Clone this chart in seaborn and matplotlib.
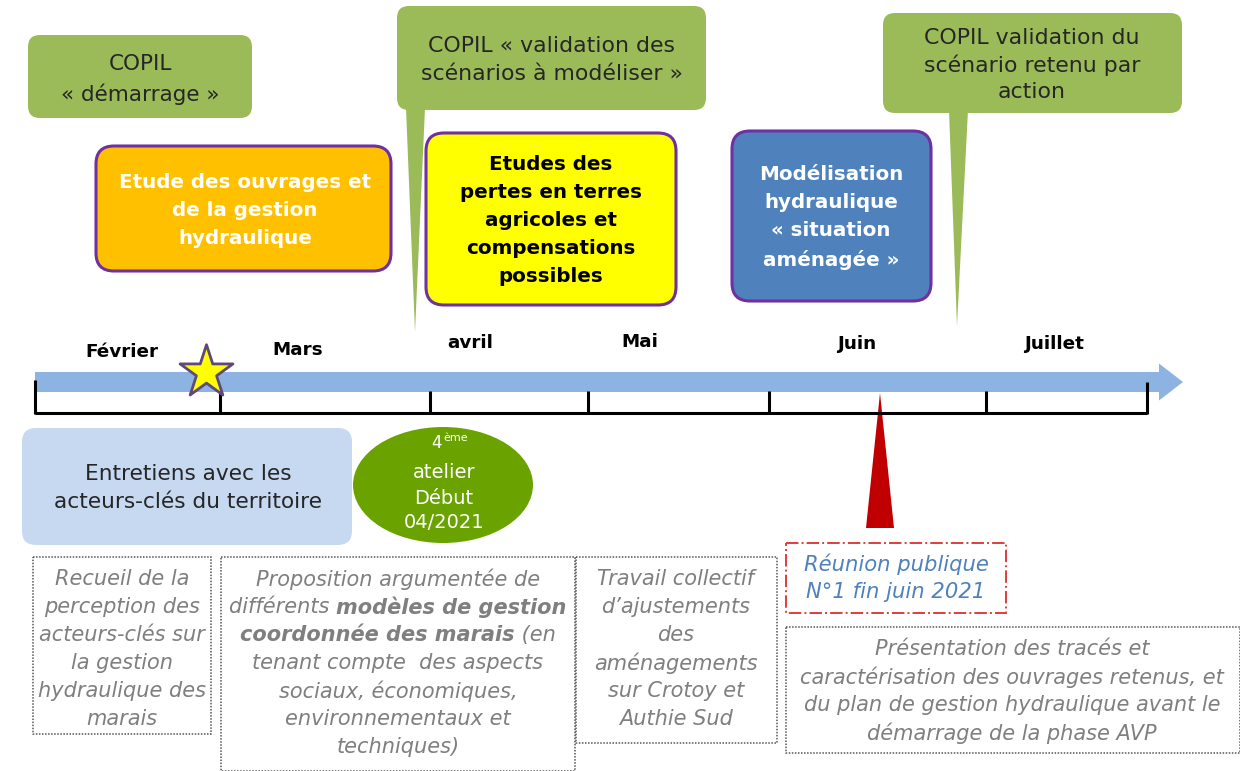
import matplotlib
matplotlib.use("Agg")
import matplotlib.pyplot as plt
import seaborn as sns
import pandas as pd
from matplotlib.patches import FancyBboxPatch, Ellipse, Polygon, Rectangle, FancyArrow

sns.set_theme(style="white")
plt.rcParams['font.family'] = ['DejaVu Sans']

# ---------------- data ----------------
months = ["Février", "Mars", "avril", "Mai", "Juin", "Juillet"]
month_label_x = [122, 298, 470, 640, 857, 1054]
month_label_y = [352, 350, 343, 342, 344, 344]
tick_x = [35, 220, 430, 588, 769, 986, 1147]

copil_texts = [["COPIL", "« démarrage »"],
               ["COPIL « validation des", "scénarios à modéliser »"],
               ["COPIL validation du", "scénario retenu par", "action"]]
phase_texts = [["Etude des ouvrages et", "de la gestion", "hydraulique"],
               ["Etudes des", "pertes en terres", "agricoles et", "compensations", "possibles"],
               ["Modélisation", "hydraulique", "« situation", "aménagée »"]]
entretiens_text = ["Entretiens avec les", "acteurs-clés du territoire"]
atelier_text = ["atelier", "Début", "04/2021"]
reunion_text = ["Réunion publique", "N°1 fin juin 2021"]
recueil_text = ["Recueil de la", "perception des", "acteurs-clés sur", "la gestion",
                "hydraulique des", "marais"]
proposition_text = [[("Proposition argumentée de", False)],
                    [("différents ", False), ("modèles de gestion", True)],
                    [("coordonnée des marais", True), (" (en", False)],
                    [("tenant compte  des aspects", False)],
                    [("sociaux, économiques,", False)],
                    [("environnementaux et", False)],
                    [("techniques)", False)]]
travail_text = ["Travail collectif", "d’ajustements", "des", "aménagements",
                "sur Crotoy et", "Authie Sud"]
presentation_text = ["Présentation des tracés et",
                     "caractérisation des ouvrages retenus, et",
                     "du plan de gestion hydraulique avant le",
                     "démarrage de la phase AVP"]

# ---------------- figure ----------------
W, H = 1240, 771
fig = plt.figure(figsize=(W / 100, H / 100), dpi=100)
ax = fig.add_axes([0, 0, 1, 1])
ax.set_xlim(0, W)
ax.set_ylim(H, 0)
ax.axis("off")
renderer = fig.canvas.get_renderer()

GREEN = "#9BBB59"
PURPLE = "#7030A0"
GRAY = "#7F7F7F"
DARK = "#262626"


def rbox(x, y, w, h, fc, ec="none", lw=0, r=14, ls="-", z=2):
    p = FancyBboxPatch((x, y), w, h, boxstyle=f"round,pad=0,rounding_size={r}",
                       fc=fc, ec=ec, lw=lw, ls=ls, zorder=z)
    ax.add_patch(p)


def lines(cx, y0, pitch, txts, **kw):
    for i, t in enumerate(txts):
        ax.text(cx, y0 + i * pitch, t, ha="center", va="center", zorder=5, **kw)


def rich_line(cx, y, segs, **kw):
    arts = []
    widths = []
    for s, bold in segs:
        t = ax.text(0, y, s, ha="left", va="center", zorder=5,
                    fontweight="bold" if bold else "normal", **kw)
        arts.append(t)
        widths.append(t.get_window_extent(renderer).width)
    x = cx - sum(widths) / 2
    for t, w in zip(arts, widths):
        t.set_x(x)
        x += w


# ---- top COPIL callouts ----
rbox(28, 35, 224, 83, GREEN, r=12)
lines(140, 64, 30, copil_texts[0], fontsize=15.5, color=DARK)

ax.add_patch(Polygon([(406, 108), (425, 108), (415, 332)], closed=True, fc=GREEN, ec="none", zorder=2))
rbox(397, 6, 309, 104, GREEN, r=12)
lines(552, 46, 28, copil_texts[1], fontsize=15.8, color=DARK)

ax.add_patch(Polygon([(949, 110), (968, 110), (957, 326)], closed=True, fc=GREEN, ec="none", zorder=2))
rbox(883, 13, 299, 100, GREEN, r=12)
lines(1032, 38, 27, copil_texts[2], fontsize=15.8, color=DARK)

# ---- phase boxes ----
rbox(96, 146, 295, 125, "#FFC000", PURPLE, 2.2, r=18)
lines(245, 182, 28, phase_texts[0], fontsize=14.3, color="white", fontweight="bold")
rbox(426, 133, 250, 172, "#FFFF00", PURPLE, 2.2, r=18)
lines(551, 165, 28, phase_texts[1], fontsize=14.3, color="black", fontweight="bold")
rbox(732, 131, 199, 170, "#4F81BD", PURPLE, 2.2, r=18)
lines(831, 174, 28.5, phase_texts[2], fontsize=14.3, color="white", fontweight="bold")

# ---- timeline ----
ax.add_patch(FancyArrow(35, 382, 1148, 0, width=20, head_width=37, head_length=24,
                        length_includes_head=True, fc="#8DB3E2", ec="none", zorder=1))
ticks = pd.DataFrame({"x": tick_x})
ax.hlines(413, tick_x[0], tick_x[-1], color="black", lw=2.2, zorder=3)
tick_top = [380] + [391] * (len(tick_x) - 2) + [382]
ax.vlines(ticks["x"], tick_top, 414, color="black", lw=2.2, zorder=3)
for m, x, y in zip(months, month_label_x, month_label_y):
    ax.text(x, y, m, ha="center", va="center", fontsize=13.2, fontweight="bold", color="black", zorder=5)

star = pd.DataFrame({"x": [206], "y": [372]})
sns.scatterplot(data=star, x="x", y="y", marker="*", s=1600, color="#FFFF00",
                edgecolor="#5F497A", linewidth=2, ax=ax, zorder=6, legend=False)
ax.set_xlim(0, W)
ax.set_ylim(H, 0)
ax.axis("off")

# ---- lower elements ----
rbox(22, 428, 330, 117, "#C6D9F1", r=14)
lines(188, 474, 28, entretiens_text, fontsize=15.6, color=DARK)

ax.add_patch(Ellipse((443, 485), 180, 116, fc="#6AA300", ec="none", zorder=2))
ax.text(437, 443, "4", ha="center", va="center", fontsize=12, color="white", zorder=5)
ax.text(456, 438, "ème", ha="center", va="center", fontsize=8, color="white", zorder=5)
lines(444, 473, 25, atelier_text, fontsize=14, color="white")

ax.add_patch(Polygon([(880, 393), (866, 528), (894, 528)], closed=True, fc="#C00000", ec="none", zorder=2))

ax.add_patch(Rectangle((786, 543), 220, 70, fill=False, ec="#E03C3C", lw=1.4, ls="-.", zorder=3))
lines(896, 564, 28, reunion_text, fontsize=15.2, color="#4F81BD", fontstyle="italic")

for (x, y, w, h) in [(33, 557, 178, 177), (221, 557, 354, 214), (576, 557, 201, 186), (786, 627, 454, 126)]:
    ax.add_patch(Rectangle((x, y), w, h, fill=False, ec="#555555", lw=1.1, ls=(0, (1, 1)), zorder=3))

lines(122, 579, 28, recueil_text, fontsize=15, color=GRAY, fontstyle="italic")
for i, segs in enumerate(proposition_text):
    rich_line(398, 579 + 28 * i, segs, fontsize=15, color=GRAY, fontstyle="italic")
lines(676, 579, 28, travail_text, fontsize=15, color=GRAY, fontstyle="italic")
lines(1012, 649, 28, presentation_text, fontsize=15, color=GRAY, fontstyle="italic")

fig.savefig("out.png", dpi=100)
